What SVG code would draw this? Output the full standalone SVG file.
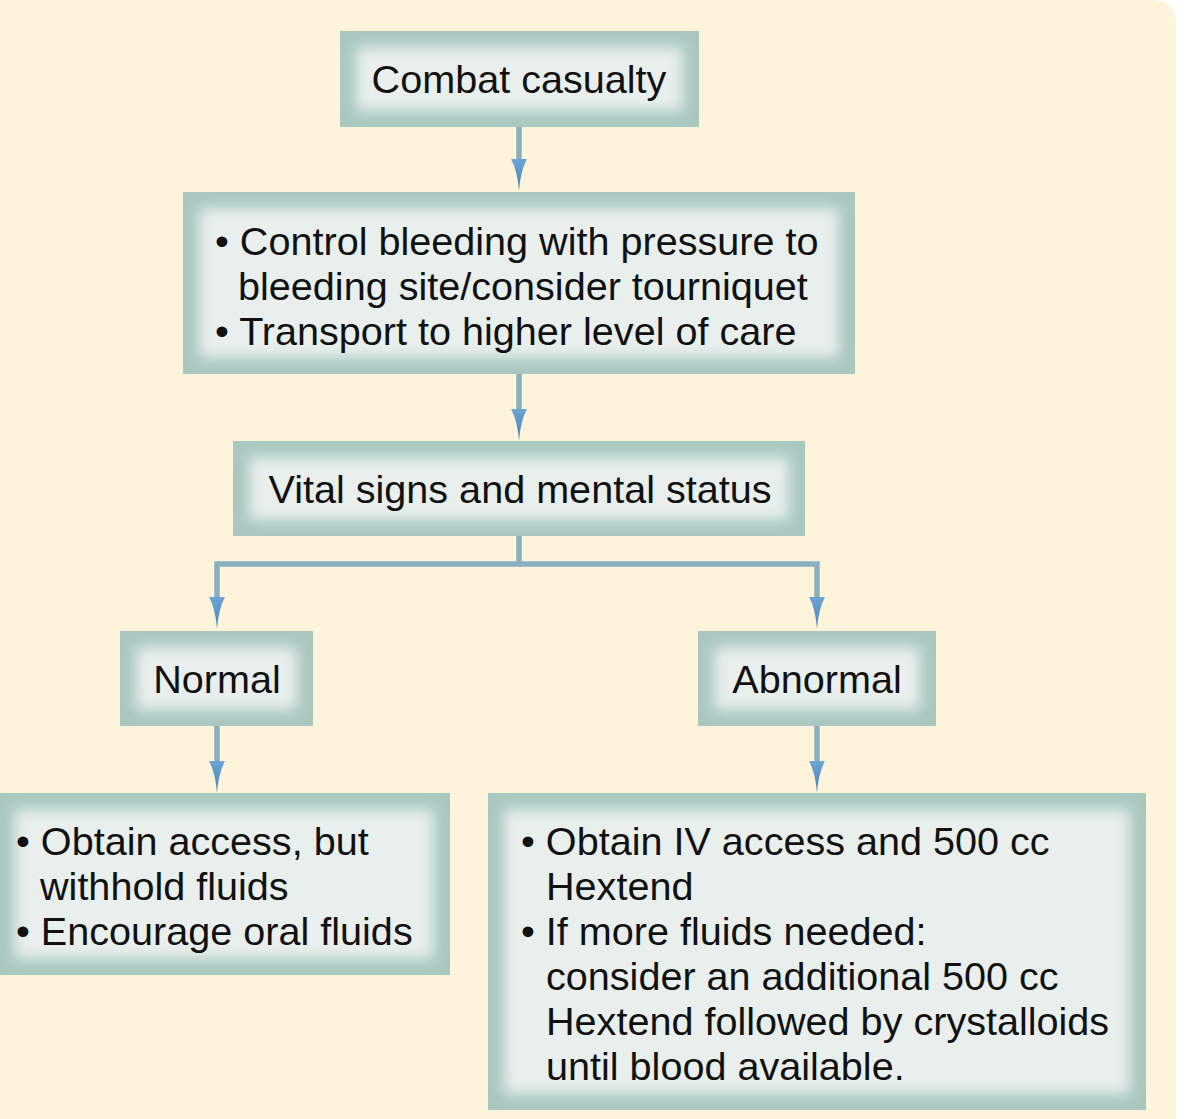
<svg xmlns="http://www.w3.org/2000/svg" width="1185" height="1119" viewBox="0 0 1185 1119">
<style>
.bo{fill:#A9C7BF}
.bi{fill:#E8EFED;filter:url(#soft)}
.t{font-family:"Liberation Sans",Arial,sans-serif;font-size:39.6px;fill:#111}
.c{text-anchor:middle}
.ln{fill:none;stroke:#8AB0C0;stroke-width:5.5}
</style>
<defs>
<filter id="soft" x="-20%" y="-40%" width="140%" height="180%"><feGaussianBlur stdDeviation="7"/></filter>
<linearGradient id="ag" x1="0" y1="0" x2="0" y2="1"><stop offset="0" stop-color="#6EA5D3"/><stop offset="1" stop-color="#4482BE"/></linearGradient>
<path id="ah" d="M-8 0 L8 0 Q1.5 12 0 32 Q-1.5 12 -8 0 Z" fill="url(#ag)"/>
</defs>
<rect width="1185" height="1119" fill="#fff"/>
<path d="M0 0 H1154 A22 22 0 0 1 1176 22 V1119 H0 Z" fill="#FEF4DC"/>

<g id="connectors">
<line class="ln" x1="519" y1="127" x2="519" y2="162"/>
<use href="#ah" x="519" y="159"/>
<line class="ln" x1="519" y1="374" x2="519" y2="412"/>
<use href="#ah" x="519" y="409"/>
<polyline class="ln" points="519,536 519,564 217,564 217,600"/>
<polyline class="ln" points="519,564 817,564 817,600"/>
<use href="#ah" x="217" y="597"/>
<use href="#ah" x="817" y="597"/>
<line class="ln" x1="217" y1="726" x2="217" y2="764"/>
<use href="#ah" x="217" y="761"/>
<line class="ln" x1="817" y1="726" x2="817" y2="764"/>
<use href="#ah" x="817" y="761"/>
</g>

<g id="n1">
<rect class="bo" x="340" y="31" width="359" height="96"/>
<rect class="bi" x="356" y="47" width="327" height="64"/>
<text class="t c" x="519" y="93">Combat casualty</text>
</g>

<g id="n2">
<rect class="bo" x="183" y="192" width="672" height="182"/>
<rect class="bi" x="199" y="208" width="640" height="150"/>
<text class="t" x="215" y="255">• Control bleeding with pressure to</text>
<text class="t" x="238" y="300">bleeding site/consider tourniquet</text>
<text class="t" x="215" y="345">• Transport to higher level of care</text>
</g>

<g id="n3">
<rect class="bo" x="233" y="441" width="572" height="95"/>
<rect class="bi" x="249" y="457" width="540" height="63"/>
<text class="t c" x="520" y="503">Vital signs and mental status</text>
</g>

<g id="n4">
<rect class="bo" x="120" y="631" width="193" height="95"/>
<rect class="bi" x="136" y="647" width="161" height="63"/>
<text class="t c" x="217" y="693">Normal</text>
</g>

<g id="n5">
<rect class="bo" x="698" y="631" width="238" height="95"/>
<rect class="bi" x="714" y="647" width="206" height="63"/>
<text class="t c" x="817" y="693">Abnormal</text>
</g>

<g id="n6">
<rect class="bo" x="0" y="793" width="450" height="182"/>
<rect class="bi" x="14" y="809" width="420" height="150"/>
<text class="t" x="16" y="855">• Obtain access, but</text>
<text class="t" x="40" y="900">withhold fluids</text>
<text class="t" x="16" y="945">• Encourage oral fluids</text>
</g>

<g id="n7">
<rect class="bo" x="488" y="793" width="658" height="317"/>
<rect class="bi" x="504" y="809" width="626" height="285"/>
<text class="t" x="521" y="855">• Obtain IV access and 500 cc</text>
<text class="t" x="546" y="900">Hextend</text>
<text class="t" x="521" y="945">• If more fluids needed:</text>
<text class="t" x="546" y="990">consider an additional 500 cc</text>
<text class="t" x="546" y="1035">Hextend followed by crystalloids</text>
<text class="t" x="546" y="1080">until blood available.</text>
</g>
</svg>
